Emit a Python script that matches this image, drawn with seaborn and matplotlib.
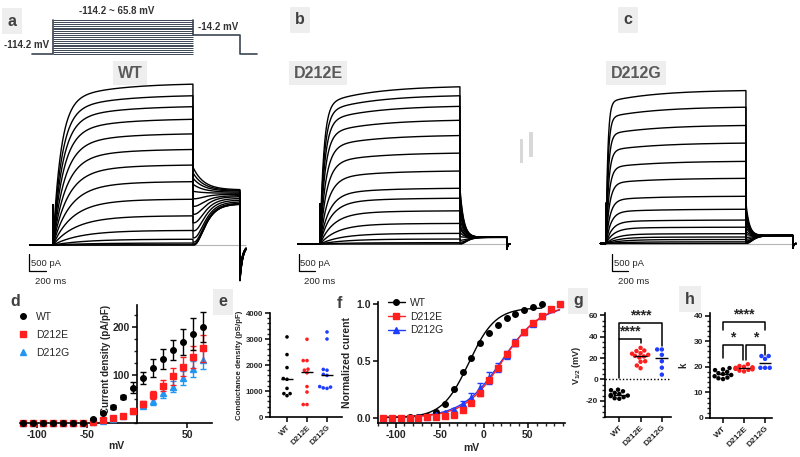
import numpy as np
import pandas as pd
import matplotlib
matplotlib.use("Agg")
import matplotlib.pyplot as plt
from matplotlib.lines import Line2D
from matplotlib.patches import Rectangle
from matplotlib.ticker import MultipleLocator, FormatStrFormatter
import seaborn as sns

# -------- 1. Data --------
volts = [-114.2, -104.2, -94.2, -84.2, -74.2, -64.2, -54.2, -44.2, -34.2, -24.2,
         -14.2, -4.2, 5.8, 15.8, 25.8, 35.8, 45.8, 55.8, 65.8]
volts_ext = volts + [75.8, 85.8]
groups = ["WT", "D212E", "D212G"]

# d - current density (pA/pF), mean +/- sem
wt_cd = [0, 0, 0, 0, 0, 0.5, 1, 9, 20, 34, 54, 74, 94, 115, 134, 153, 169, 185, 200]
wt_cd_err = [0, 0, 0, 0, 0, 0, 0, 1, 2, 4, 5, 12, 12, 19, 21, 21, 27, 33, 31]
e_cd = [0, 0, 0, 0, 0, 0, 1, 3, 6, 10, 15, 25, 39, 59, 78, 97, 117, 137, 156]
e_cd_err = [0, 0, 0, 0, 0, 0, 0, 1, 1, 2, 3, 4, 6, 8, 12, 17, 20, 23, 28]
g_cd = [0, 0, 0, 0, 0, 0, 1, 2, 5, 9, 14, 25, 36, 45, 62, 76, 94, 113, 132]
g_cd_err = [0, 0, 0, 0, 0, 0, 0, 1, 1, 2, 3, 4, 5, 7, 10, 12, 14, 17, 20]

# e - conductance density (pS/pF)
wt_gd = [3080, 2400, 1900, 1480, 1450, 1100, 900, 900, 820]
e_gd = [2990, 2170, 2170, 1840, 1800, 1700, 1170, 960, 480, 480]
g_gd = [3270, 3000, 1830, 1800, 1640, 1600, 1170, 1150, 1120, 1100]

# f - normalized current
wt_norm = [0, 0, 0, 0.01, 0.01, 0.015, 0.047, 0.12, 0.25, 0.40, 0.53, 0.655,
           0.75, 0.82, 0.875, 0.915, 0.95, 0.98, 1.0]
e_norm = [0, 0, 0, 0, 0, 0.005, 0.01, 0.018, 0.026, 0.067, 0.13, 0.215, 0.33,
          0.44, 0.56, 0.66, 0.755, 0.833, 0.9, 0.955, 1.0]
e_norm_err = [0, 0, 0, 0, 0, 0, 0, 0, 0, 0.01, 0.015, 0.02, 0.02, 0.02, 0.02,
              0.02, 0.02, 0.015, 0.01, 0.01, 0]
g_norm = [0, 0, 0, 0, 0.005, 0.01, 0.02, 0.04, 0.07, 0.12, 0.175, 0.26, 0.35,
          0.44, 0.555, 0.66, 0.755, 0.83, 0.9, 0.955, 1.0]
g_norm_err = [0, 0, 0, 0, 0, 0, 0.005, 0.01, 0.015, 0.03, 0.04, 0.05, 0.05,
              0.04, 0.035, 0.03, 0.02, 0.015, 0.01, 0.01, 0]
# Boltzmann fits: amplitude, V1/2, k
fit_wt = (0.97, -17.0, 15.0)
fit_e = (1.0, 21.0, 21.5)
fit_g = (1.0, 20.0, 22.5)

# g - V1/2 (mV)
wt_v12 = [-9.5, -10, -11, -12.5, -13.5, -14.5, -15, -15.5, -16.5, -17.5, -18]
e_v12 = [29.5, 27, 26.5, 24.5, 24, 23, 22, 21.5, 20.5, 17, 16.5, 13, 10.5]
g_v12 = [28, 28, 23, 17, 11, 4.5]

# h - slope factor k
wt_k = [19.5, 19, 18.7, 18, 17.5, 17.2, 16.8, 16.3, 15.8, 15.5, 15.2]
e_k = [21, 20.3, 20, 19.8, 19.6, 19.5, 19.3, 19.2, 19, 18.8, 18.5, 18.2]
g_k = [24.2, 24.2, 23.1, 19.6, 19.6, 19.6]

# a-c - raw traces: steady-state current (pA) and activation tau (ms) per sweep
wt_iss = [4850, 4500, 4170, 3790, 3350, 2880, 2410, 1910, 1380, 880, 440, 175, 60, 0, 0]
wt_tau = [95, 105, 115, 125, 140, 155, 175, 200, 230, 270, 320, 380, 450, 500, 500]
wt_tail_end = [1650, 1630, 1610, 1580, 1550, 1520, 1480, 1450, 1400, 1350, 1300,
               1260, 1240, 1230, 1230]
e_iss = [4740, 4470, 4150, 3730, 3270, 2740, 2200, 1680, 1380, 1000, 620, 320, 150, 40, 0]
e_tau = [45, 50, 55, 60, 70, 80, 95, 110, 130, 160, 200, 250, 300, 350, 400]
g_iss = [4600, 4100, 3550, 3020, 2470, 1960, 1420, 1030, 705, 490, 295, 195, 120, 50, 0]
g_tau = [22, 25, 28, 32, 37, 43, 50, 60, 75, 95, 120, 150, 190, 240, 300]

# -------- 2. Style --------
sns.set_style("ticks")
plt.rcParams["font.family"] = ["Liberation Sans", "DejaVu Sans"]
plt.rcParams["axes.unicode_minus"] = False
plt.rcParams["mathtext.fontset"] = "custom"
plt.rcParams["mathtext.rm"] = "Liberation Sans"
plt.rcParams["mathtext.bf"] = "Liberation Sans:bold"

RED = "#ff1f1f"
BLUE = "#1f3dff"
LBLUE = "#2196f3"
GRAY_TXT = "#404040"
BOX = dict(facecolor="#eeeeee", edgecolor="none", pad=3)

W, H = 800, 457
fig = plt.figure(figsize=(8, 4.57), dpi=100)


def px_axes(x0, y0, x1, y1):
    return fig.add_axes([x0 / W, 1 - y1 / H, (x1 - x0) / W, (y1 - y0) / H])


def ftext(x, y, s, **kw):
    fig.text(x / W, 1 - y / H, s, **kw)


def bold_ticks(ax, size):
    for lab in ax.get_xticklabels() + ax.get_yticklabels():
        lab.set_fontweight("bold")
        lab.set_fontsize(size)


def style_axis(ax):
    sns.despine(ax=ax)
    for sp in ["left", "bottom"]:
        ax.spines[sp].set_linewidth(1.2)
        ax.spines[sp].set_color("black")
    ax.tick_params(which="major", width=1.1, length=3.5, pad=1.5, color="black")
    ax.tick_params(which="minor", width=1.0, length=2)


def boltz(v, p):
    a, vh, k = p
    return a / (1 + np.exp(-(v - vh) / k))


# -------- 3. Traces (a, b, c) --------
STEP_MS = 1700.0
TAIL_MS = 570.0
MS_PX = STEP_MS / 140.0
PA_PX = 500.0 / 16.7
CAP_PA = 1200.0


def make_trace(t, iss, tau, slow, i0, i_inf, tau_dn, tau_up, neg, neg_tau):
    cur = np.zeros_like(t)
    on = (t >= 0) & (t < STEP_MS)
    ta = t[on]
    cur[on] = iss * (1 - (1 - slow) * np.exp(-ta / tau) - slow * np.exp(-ta / 600.0)) \
        + CAP_PA * np.exp(-ta / 1.5)
    tl = (t >= STEP_MS) & (t < STEP_MS + TAIL_MS)
    tt = t[tl] - STEP_MS
    if i0 >= i_inf:
        cur[tl] = i_inf + (i0 - i_inf) * np.exp(-tt / tau_dn)
    else:
        cur[tl] = i0 + (i_inf - i0) * (1 - np.exp(-tt / tau_up)) ** 3
    aft = t >= STEP_MS + TAIL_MS
    cur[aft] = -neg * np.exp(-(t[aft] - STEP_MS - TAIL_MS) / neg_tau)
    return cur


def trace_panel(x0, x1, t0_px, base_px, pre_ms, post_ms, iss, tau, slow,
                tail_frac, tail_end, tau_dn, tau_up, neg_frac, neg_tau, sb_px):
    ax = px_axes(x0, 70, x1, 295)
    ax.set_xlim((x0 - t0_px) * MS_PX, (x1 - t0_px) * MS_PX)
    ax.set_ylim((base_px - 295) * PA_PX, (base_px - 70) * PA_PX)
    ax.axis("off")
    t = np.arange(-pre_ms, STEP_MS + TAIL_MS + post_ms, 1.0)
    ax.hlines(0, -pre_ms, STEP_MS + TAIL_MS + post_ms, color="#b5b5b5", lw=0.8, zorder=0)
    for k in range(len(iss)):
        i_inf = tail_end[k] if np.ndim(tail_end) else tail_end
        cur = make_trace(t, iss[k], tau[k], slow, tail_frac * iss[k], i_inf,
                         tau_dn, tau_up, neg_frac * i_inf, neg_tau)
        ax.plot(t, cur, color="black", lw=1.0)
    # scale bar
    sx = (sb_px - t0_px) * MS_PX
    sy = (base_px - 270.7) * PA_PX
    ax.plot([sx, sx, sx + 200], [sy + 500, sy, sy], color="black", lw=0.9)
    ftext(sb_px + 2, 264, "500 pA", fontsize=6.8, va="center", ha="left")
    ftext(sb_px + 6, 282, "200 ms", fontsize=6.8, va="center", ha="left")
    return ax


trace_panel(20, 255, 53, 245, 280, 75, wt_iss, wt_tau, 0.12, 0.48, wt_tail_end,
            130, 100, 0.65, 35, 29.3)
trace_panel(290, 520, 320, 244, 270, 40, e_iss, e_tau, 0.12, 0.35, 200,
            45, 60, 0.8, 8, 298.5)
trace_panel(595, 800, 606, 243.5, 70, 40, g_iss, g_tau, 0.08, 0.26, 240,
            40, 60, 0.6, 8, 611.5)

# voltage protocol
axp = px_axes(20, 0, 262, 65)
MV_PX = 34.0 / 180.0
axp.set_xlim((20 - 53) * MS_PX, (262 - 53) * MS_PX)
axp.set_ylim(-114.2 - 11 / MV_PX, -114.2 + 54 / MV_PX)
axp.axis("off")
PC = "#3c4654"
axp.hlines(volts, 0, STEP_MS, color=PC, lw=0.7)
axp.plot([-250, 0, 0], [-114.2, -114.2, 65.8], color=PC, lw=1.2)
axp.plot([STEP_MS, STEP_MS, STEP_MS + TAIL_MS, STEP_MS + TAIL_MS, STEP_MS + TAIL_MS + 210],
         [65.8, -14.2, -14.2, -114.2, -114.2], color=PC, lw=1.2)
ftext(117, 11, "-114.2 ~ 65.8 mV", fontsize=7, fontweight="bold", color="#333333",
      ha="center", va="center")
ftext(218, 27, "-14.2 mV", fontsize=7, fontweight="bold", color="#333333",
      ha="center", va="center")
ftext(27, 45, "-114.2 mV", fontsize=7, fontweight="bold", color="#333333",
      ha="center", va="center")

for x, s in [(130, "WT"), (318, "D212E"), (636, "D212G")]:
    ftext(x, 73, s, fontsize=11.5, fontweight="bold", color="#5a5a5a",
          ha="center", va="center", bbox=BOX)

# small gray marks between b and c
fig.add_artist(Rectangle((520 / W, 1 - 163 / H), 3 / W, 24 / H,
                         transform=fig.transFigure, color="#d8d8d8", lw=0))
fig.add_artist(Rectangle((529 / W, 1 - 157 / H), 4 / W, 25 / H,
                         transform=fig.transFigure, color="#d8d8d8", lw=0))

# -------- 4. Panel d --------
axd = px_axes(20, 305, 212, 423)
axd.errorbar(volts, g_cd, yerr=g_cd_err, fmt="^", color=LBLUE, ms=4, capsize=2.5,
             elinewidth=1, capthick=1, clip_on=False, zorder=3)
axd.errorbar(volts, e_cd, yerr=e_cd_err, fmt="s", color=RED, ms=4, capsize=2.5,
             elinewidth=1, capthick=1, clip_on=False, zorder=4)
axd.errorbar(volts, wt_cd, yerr=wt_cd_err, fmt="o", color="black", ms=4, capsize=2.5,
             elinewidth=1, capthick=1, clip_on=False, zorder=5)
axd.set_xlim(-117, 75)
axd.set_ylim(0, 246)
style_axis(axd)
axd.spines["left"].set_position(("data", 0))
axd.set_xticks([-100, -50, 50])
axd.set_yticks([100, 200])
axd.yaxis.set_minor_locator(MultipleLocator(25))
bold_ticks(axd, 7.5)
axd.set_xlabel("mV", fontsize=7.5, fontweight="bold", labelpad=1)
axd.set_ylabel("Current density (pA/pF)", fontsize=7, fontweight="bold")
axd.yaxis.set_label_coords((111 - 20) / 192, (423 - 359) / 118)
hd = [Line2D([], [], marker="o", color="black", ls="none", ms=4),
      Line2D([], [], marker="s", color=RED, ls="none", ms=4),
      Line2D([], [], marker="^", color=LBLUE, ls="none", ms=4)]
fig.legend(hd, groups, loc="upper left", bbox_to_anchor=(18 / W, 1 - 312 / H),
           frameon=False, fontsize=7.5, handlelength=1, handletextpad=0.7,
           labelspacing=0.75, borderpad=0, borderaxespad=0)


# -------- 5. Scatter panels (e, g, h) --------
def scatter_panel(box, vals, size, ylim, xlim):
    ax = px_axes(*box)
    df = pd.DataFrame({"group": sum([[g] * len(v) for g, v in zip(groups, vals)], []),
                       "val": sum([list(v) for v in vals], [])})
    sns.swarmplot(data=df, x="group", y="val", hue="group", order=groups,
                  palette={"WT": "black", "D212E": RED, "D212G": BLUE},
                  size=size, linewidth=0, legend=False, ax=ax, zorder=3)
    for i, v in enumerate(vals):
        ax.hlines(np.median(v), i - 0.3, i + 0.3, color="black", lw=1, zorder=4)
    ax.set_xlim(*xlim)
    ax.set_ylim(*ylim)
    ax.set_xlabel("")
    style_axis(ax)
    ax.set_xticks(range(3))
    ax.set_xticklabels(groups, rotation=45, ha="right", rotation_mode="anchor")
    return ax


axe = scatter_panel((270, 313, 342, 417), [wt_gd, e_gd, g_gd], 2.6, (0, 4000), (-0.85, 2.75))
axe.set_yticks([0, 1000, 2000, 3000, 4000])
axe.yaxis.set_minor_locator(MultipleLocator(200))
bold_ticks(axe, 5.7)
axe.set_ylabel("Conductance density (pS/pF)", fontsize=5.7, fontweight="bold", labelpad=2)

axg = scatter_panel((605, 313, 671, 417), [wt_v12, e_v12, g_v12], 3.2, (-35, 62), (-0.67, 2.43))
axg.axhline(0, color="black", lw=1, ls=(0, (1, 1.5)), zorder=1)
axg.set_yticks([-20, 0, 20, 40, 60])
axg.yaxis.set_minor_locator(MultipleLocator(5))
bold_ticks(axg, 6)
axg.set_ylabel(r"V$_{\mathbf{1/2}}$ (mV)", fontsize=6.5, fontweight="bold", labelpad=2)
axg.plot([0, 0, 1, 1], [1.5, 37.5, 37.5, 33.7], color="black", lw=1.1, clip_on=False)
axg.plot([0, 0, 2, 2], [37.5, 52.5, 52.5, 31], color="black", lw=1.1, clip_on=False)
axg.text(0.5, 37.8, "****", ha="center", va="bottom", fontsize=10, fontweight="bold")
axg.text(1, 52.8, "****", ha="center", va="bottom", fontsize=10, fontweight="bold")

axh = scatter_panel((710, 313, 772, 418), [wt_k, e_k, g_k], 3.2, (0, 41), (-0.62, 2.33))
axh.set_yticks([0, 10, 20, 30, 40])
axh.yaxis.set_minor_locator(MultipleLocator(2))
bold_ticks(axh, 6)
axh.set_ylabel("k", fontsize=7, fontweight="bold", labelpad=4)
axh.plot([0, 0, 0.95, 0.95], [23.4, 28.6, 28.6, 22.7], color="black", lw=1.1)
axh.plot([1.08, 1.08, 2, 2], [22.7, 28.6, 28.6, 24.7], color="black", lw=1.1)
axh.plot([0, 0, 2, 2], [34.5, 37.4, 37.4, 34.5], color="black", lw=1.1, clip_on=False)
axh.text(0.48, 28.8, "*", ha="center", va="bottom", fontsize=10, fontweight="bold")
axh.text(1.54, 28.8, "*", ha="center", va="bottom", fontsize=10, fontweight="bold")
axh.text(1, 37.6, "****", ha="center", va="bottom", fontsize=10, fontweight="bold",
         clip_on=False)

# -------- 6. Panel f --------
axf = px_axes(378, 302, 565, 423)
vv_wt = np.linspace(-114.2, 65.8, 200)
vv_mut = np.linspace(-114.2, 85.8, 200)
axf.plot(vv_mut, boltz(vv_mut, fit_g), color=BLUE, lw=1)
axf.errorbar(volts_ext, g_norm, yerr=g_norm_err, fmt="^", color=BLUE, ms=4,
             capsize=2, elinewidth=1, clip_on=False)
axf.plot(vv_mut, boltz(vv_mut, fit_e), color=RED, lw=1)
axf.errorbar(volts_ext, e_norm, yerr=e_norm_err, fmt="s", color=RED, ms=4,
             capsize=2, elinewidth=1, clip_on=False)
axf.plot(vv_wt, boltz(vv_wt, fit_wt), color="black", lw=1)
axf.plot(volts, wt_norm, "o", color="black", ms=4, clip_on=False)
axf.set_xlim(-120, 92)
axf.set_ylim(-0.047, 1.02)
style_axis(axf)
axf.set_xticks([-100, -50, 0, 50])
axf.xaxis.set_minor_locator(MultipleLocator(10))
axf.set_yticks([0, 0.5, 1.0])
axf.yaxis.set_major_formatter(FormatStrFormatter("%.1f"))
bold_ticks(axf, 7.5)
axf.set_xlabel("mV", fontsize=7.5, fontweight="bold", labelpad=2)
axf.set_ylabel("Normalized curent", fontsize=7.5, fontweight="bold", labelpad=3)
hf = [Line2D([], [], marker="o", color="black", lw=1, ms=4),
      Line2D([], [], marker="s", color=RED, lw=1, ms=4),
      Line2D([], [], marker="^", color=BLUE, lw=1, ms=4)]
fig.legend(hf, groups, loc="upper left", bbox_to_anchor=(388 / W, 1 - 298 / H),
           frameon=False, fontsize=7.5, handlelength=1.6, handletextpad=0.5,
           labelspacing=0.35, borderpad=0, borderaxespad=0)

# -------- 7. Panel letters --------
for x, y, s, boxed in [(12, 21, "a", True), (300, 20, "b", True), (628, 20, "c", True),
                       (15, 302, "d", False), (223, 302, "e", True), (339, 303, "f", False),
                       (578, 301, "g", True), (690, 299, "h", True)]:
    ftext(x, y, s, fontsize=11.5, fontweight="bold", color=GRAY_TXT, ha="center",
          va="center", bbox=dict(facecolor="#eeeeee", edgecolor="none", pad=4) if boxed else None)

fig.savefig("out.png", dpi=100)
